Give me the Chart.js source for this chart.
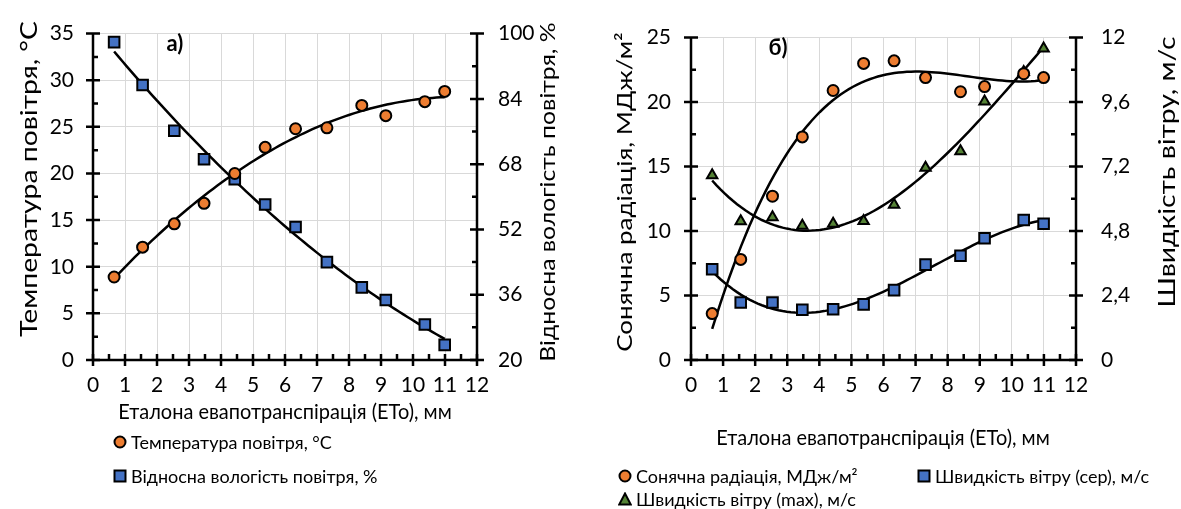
<!DOCTYPE html>
<html>
<head>
<meta charset="utf-8">
<script src="https://cdn.jsdelivr.net/npm/chart.js@4.4.1/dist/chart.umd.min.js"></script>
<style>
  body { margin: 0; background: #fff; width: 1181px; height: 509px; overflow: hidden; position: relative; font-family: Lato, "Open Sans", sans-serif; color: #000; }
  canvas { position: absolute; top: 0; }
  #chartA { left: 0; }
  #chartB { left: 590px; }
  .leg { position: absolute; font-size: 18px; white-space: nowrap; display: flex; align-items: center; line-height: 1; }
  .leg svg { margin-right: 4px; }
</style>
</head>
<body>
<canvas id="chartA" width="590" height="509"></canvas>
<canvas id="chartB" width="591" height="509"></canvas>

<div class="leg" style="left:113px; top:433px;"><svg width="14" height="14"><circle cx="7" cy="7" r="5.5" fill="#ED7D31" stroke="#000" stroke-width="2"/></svg>Температура повітря, °C</div>
<div class="leg" style="left:113px; top:467px;"><svg width="14" height="14"><rect x="1.5" y="1.5" width="11" height="11" fill="#4472C4" stroke="#000" stroke-width="2"/></svg>Відносна вологість повітря, %</div>
<div class="leg" style="left:618px; top:467px;"><svg width="14" height="14"><circle cx="7" cy="7" r="5.5" fill="#ED7D31" stroke="#000" stroke-width="2"/></svg>Сонячна радіація, МДж/м²</div>
<div class="leg" style="left:917px; top:467px;"><svg width="14" height="14"><rect x="1.5" y="1.5" width="11" height="11" fill="#4472C4" stroke="#000" stroke-width="2"/></svg>Швидкість вітру (сер), м/с</div>
<div class="leg" style="left:618px; top:490px;"><svg width="14" height="14"><polygon points="7,1.5 12.8,12.5 1.2,12.5" fill="#548235" stroke="#000" stroke-width="2"/></svg>Швидкість вітру (max), м/с</div>

<script>
// ETo values (x) shared by both panels
const eto = [0.66, 1.55, 2.54, 3.47, 4.43, 5.38, 6.33, 7.31, 8.4, 9.15, 10.37, 10.99];

// panel a)
const airTemp = [8.9, 12.1, 14.6, 16.8, 20.0, 22.8, 24.8, 24.9, 27.3, 26.2, 27.7, 28.8];
const airHumidity = [97.9, 87.4, 76.2, 69.2, 64.3, 58.1, 52.6, 44.0, 37.8, 34.7, 28.7, 23.7];

// panel б)
const solarRad = [3.6, 7.8, 12.7, 17.3, 20.9, 23.0, 23.2, 21.9, 20.8, 21.2, 22.2, 21.9];
const windAvg = [3.38, 2.14, 2.14, 1.87, 1.89, 2.07, 2.6, 3.55, 3.88, 4.53, 5.21, 5.07];
const windMax = [6.88, 5.16, 5.31, 5.0, 5.07, 5.17, 5.78, 7.16, 7.77, 9.62, 10.72, 11.59];

// tick labels
const etoTicks = [0, 1, 2, 3, 4, 5, 6, 7, 8, 9, 10, 11, 12];
const tempTicks = [0, 5, 10, 15, 20, 25, 30, 35];
const humidityTicks = [20, 36, 52, 68, 84, 100];
const radTicks = [0, 5, 10, 15, 20, 25];
const windTicks = [0, 2.4, 4.8, 7.2, 9.6, 12];

const FONT = "Lato, 'Open Sans', sans-serif";

// least squares polynomial trend (like the Excel trendline)
function polyFit(xs, ys, order) {
  const n = order + 1;
  const A = [];
  for (let i = 0; i < n; i++) {
    A.push(new Array(n + 1).fill(0));
    for (let j = 0; j < n; j++) {
      A[i][j] = xs.reduce((s, x) => s + Math.pow(x, i + j), 0);
    }
    A[i][n] = xs.reduce((s, x, k) => s + ys[k] * Math.pow(x, i), 0);
  }
  for (let c = 0; c < n; c++) {
    let p = c;
    for (let r = c + 1; r < n; r++) if (Math.abs(A[r][c]) > Math.abs(A[p][c])) p = r;
    [A[c], A[p]] = [A[p], A[c]];
    for (let r = 0; r < n; r++) {
      if (r === c) continue;
      const f = A[r][c] / A[c][c];
      for (let k = c; k <= n; k++) A[r][k] -= f * A[c][k];
    }
  }
  return A.map((row, i) => row[n] / row[i]);
}

function trend(xs, ys, order) {
  const coef = polyFit(xs, ys, order);
  const lo = Math.min(...xs), hi = Math.max(...xs);
  const pts = [];
  for (let i = 0; i <= 80; i++) {
    const x = lo + (hi - lo) * i / 80;
    pts.push({ x: x, y: coef.reduce((s, c, k) => s + c * Math.pow(x, k), 0) });
  }
  return pts;
}

function pairs(xs, ys) {
  return xs.map((x, i) => ({ x: x, y: ys[i] }));
}

function pointSet(label, ys, axis, style, color, radius) {
  return {
    label: label, data: pairs(eto, ys), yAxisID: axis, showLine: false, order: 1,
    pointStyle: style, pointRadius: radius, pointHoverRadius: radius,
    pointBackgroundColor: color, pointBorderColor: "#000", pointBorderWidth: 2,
  };
}

function trendSet(ys, axis, order) {
  return {
    data: trend(eto, ys, order), yAxisID: axis, showLine: true, order: 2,
    borderColor: "#000", borderWidth: 2.5, pointRadius: 0, tension: 0,
  };
}

function fmt(v) {
  return String(Math.round(v * 10) / 10).replace(".", ",");
}

function yScale(ticks, position, width, grid, pad) {
  return {
    type: "linear", position: position, min: ticks[0], max: ticks[ticks.length - 1],
    afterBuildTicks: (s) => { s.ticks = ticks.map((v) => ({ value: v })); },
    afterFit: (s) => { s.width = width; },
    ticks: { font: { family: FONT, size: 21 }, color: "#000", padding: pad, callback: fmt },
    grid: { display: grid, color: "#D9D9D9", lineWidth: 1, drawTicks: false },
    border: { display: false },
  };
}

function xScale() {
  return {
    type: "linear", min: 0, max: 12,
    afterBuildTicks: (s) => { s.ticks = etoTicks.map((v) => ({ value: v })); },
    afterFit: (s) => { s.height = 149; },
    ticks: { font: { family: FONT, size: 21 }, color: "#000", padding: 13 },
    grid: { color: "#D9D9D9", lineWidth: 1, drawTicks: false },
    border: { display: false },
  };
}

// axis lines with crossing major ticks and inner minor ticks
const axisTicks = {
  id: "axisTicks",
  afterDatasetsDraw(chart) {
    const ctx = chart.ctx;
    const a = chart.chartArea;
    ctx.save();
    ctx.strokeStyle = "#000";
    ctx.lineCap = "butt";
    Object.values(chart.scales).forEach((s) => {
      const vals = s.ticks.map((t) => t.value);
      const minors = vals.slice(1).map((v, i) => (v + vals[i]) / 2);
      ctx.lineWidth = 2.5;
      ctx.beginPath();
      if (s.axis === "x") {
        ctx.moveTo(a.left - 1, a.bottom); ctx.lineTo(a.right + 1, a.bottom);
        vals.forEach((v) => { const p = s.getPixelForValue(v); ctx.moveTo(p, a.bottom - 6); ctx.lineTo(p, a.bottom + 6); });
        minors.forEach((v) => { const p = s.getPixelForValue(v); ctx.moveTo(p, a.bottom - 6); ctx.lineTo(p, a.bottom); });
      } else {
        const x0 = s.position === "left" ? a.left : a.right;
        const dir = s.position === "left" ? 1 : -1;
        ctx.moveTo(x0, a.top - 1); ctx.lineTo(x0, a.bottom + 1);
        vals.forEach((v) => { const p = s.getPixelForValue(v); ctx.moveTo(x0 - 7, p); ctx.lineTo(x0 + 7, p); });
        minors.forEach((v) => { const p = s.getPixelForValue(v); ctx.moveTo(x0, p); ctx.lineTo(x0 + dir * 5, p); });
      }
      ctx.stroke();
    });
    ctx.restore();
  },
};

// axis titles and panel letters; stretch widens the text along its baseline
const captions = {
  id: "captions",
  afterDraw(chart, args, opts) {
    const ctx = chart.ctx;
    opts.items.forEach((t) => {
      ctx.save();
      ctx.translate(t.x, t.y);
      ctx.rotate(t.rot || 0);
      ctx.scale(t.stretch || 1, 1);
      ctx.font = (t.bold ? "bold " : "") + t.size + "px " + FONT;
      ctx.fillStyle = "#000";
      ctx.textAlign = "center";
      ctx.textBaseline = "middle";
      ctx.fillText(t.text, 0, 0);
      ctx.restore();
    });
  },
};

const common = {
  responsive: false,
  animation: false,
  devicePixelRatio: 1,
  layout: { padding: { top: 23, left: 0, right: 0, bottom: 0 } },
  plugins: { legend: { display: false }, tooltip: { enabled: false } },
};

new Chart(document.getElementById("chartA"), {
  type: "scatter",
  data: {
    datasets: [
      pointSet("Температура повітря, °C", airTemp, "yT", "circle", "#ED7D31", 5.5),
      pointSet("Відносна вологість повітря, %", airHumidity, "yH", "rect", "#4472C4", 7.5),
      trendSet(airTemp, "yT", 2),
      trendSet(airHumidity, "yH", 2),
    ],
  },
  options: {
    ...common,
    scales: {
      x: xScale(),
      yT: yScale(tempTicks, "left", 93, true, 19),
      yH: yScale(humidityTicks, "right", 113, false, 21),
    },
    plugins: {
      ...common.plugins,
      captions: {
        items: [
          { text: "Температура повітря, °C", x: 29, y: 179, rot: -Math.PI / 2, size: 24, stretch: 1.18 },
          { text: "Відносна вологість повітря, %", x: 548, y: 192, rot: -Math.PI / 2, size: 21, stretch: 1.18 },
          { text: "Еталона евапотранспірація (ЕТо), мм", x: 285, y: 412, size: 21, stretch: 0.95 },
          { text: "а)", x: 175, y: 44, size: 22, bold: true },
        ],
      },
    },
  },
  plugins: [axisTicks, captions],
});

new Chart(document.getElementById("chartB"), {
  type: "scatter",
  data: {
    datasets: [
      pointSet("Сонячна радіація, МДж/м²", solarRad, "yR", "circle", "#ED7D31", 5.5),
      pointSet("Швидкість вітру (сер), м/с", windAvg, "yW", "rect", "#4472C4", 7.5),
      pointSet("Швидкість вітру (max), м/с", windMax, "yW", "triangle", "#548235", 6),
      trendSet(solarRad, "yR", 3),
      trendSet(windAvg, "yW", 3),
      trendSet(windMax, "yW", 3),
    ],
  },
  options: {
    ...common,
    scales: {
      x: xScale(),
      yR: yScale(radTicks, "left", 101, true, 20),
      yW: yScale(windTicks, "right", 105, false, 25),
    },
    plugins: {
      ...common.plugins,
      captions: {
        items: [
          { text: "Сонячна радіація, МДж/м²", x: 35, y: 192, rot: -Math.PI / 2, size: 22, stretch: 1.18 },
          { text: "Швидкість вітру, м/с", x: 577, y: 172, rot: -Math.PI / 2, size: 24, stretch: 1.18 },
          { text: "Еталона евапотранспірація (ЕТо), мм", x: 293, y: 438, size: 21, stretch: 0.95 },
          { text: "б)", x: 188, y: 48, size: 22, bold: true },
        ],
      },
    },
  },
  plugins: [axisTicks, captions],
});
</script>
</body>
</html>
